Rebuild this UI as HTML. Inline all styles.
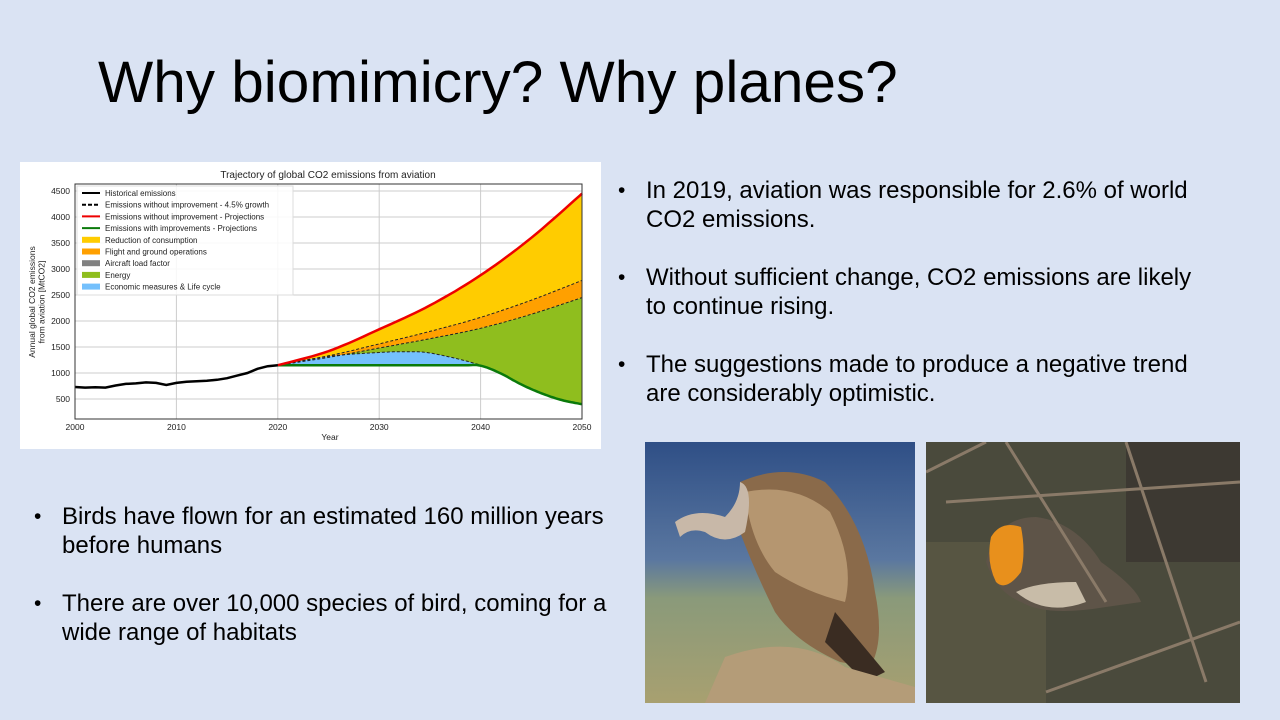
<!DOCTYPE html>
<html><head><meta charset="utf-8">
<style>
body{margin:0;width:1280px;height:720px;background:#dae3f3;position:relative;overflow:hidden;font-family:"Liberation Sans",sans-serif;color:#000}
.t{position:absolute;left:98px;top:49px;font-size:58.5px;white-space:nowrap}
.b{position:absolute;font-size:24px;line-height:29px}
.b li{list-style:none;position:relative;margin-bottom:29px}
.b li:before{content:"•";position:absolute;left:-28px;font-size:21px}
.ph{position:absolute;overflow:hidden}
</style></head><body>
<div class="t">Why biomimicry? Why planes?</div>
<div class="b" style="left:646px;top:176px;width:556px">
<ul style="margin:0;padding:0">
<li>In 2019, aviation was responsible for 2.6% of world CO2 emissions.</li>
<li>Without sufficient change, CO2 emissions are likely to continue rising.</li>
<li>The suggestions made to produce a negative trend are considerably optimistic.</li>
</ul></div>
<div class="b" style="left:62px;top:502px;width:556px">
<ul style="margin:0;padding:0">
<li>Birds have flown for an estimated 160 million years before humans</li>
<li>There are over 10,000 species of bird, coming for a wide range of habitats</li>
</ul></div>

<svg class="ph" style="left:645px;top:442px" width="270" height="261">
<defs><linearGradient id="vs" x1="0" y1="0" x2="0" y2="1"><stop offset="0" stop-color="#2f4f86"/><stop offset="0.45" stop-color="#5a77a0"/><stop offset="0.6" stop-color="#8a9a7a"/><stop offset="1" stop-color="#a8a070"/></linearGradient></defs>
<rect width="270" height="261" fill="url(#vs)"/>
<path d="M95 40 Q140 20 180 40 Q220 80 230 150 Q240 200 225 225 L195 220 Q150 200 130 170 Q110 130 95 90Z" fill="#8a6a4a"/>
<path d="M100 50 Q150 40 185 70 Q210 120 200 160 Q160 150 130 130 Q105 100 100 50Z" fill="#b59670"/>
<path d="M30 80 Q50 65 80 75 Q95 60 95 40 Q110 45 100 90 Q80 105 60 90 Q45 85 35 95Z" fill="#c8b8a8"/>
<path d="M190 170 L240 230 L220 240 L180 200Z" fill="#3a2c22"/>
<path d="M60 261 L80 215 Q150 190 200 225 L270 245 L270 261Z" fill="#b49c78"/>
</svg>
<svg class="ph" style="left:926px;top:442px" width="314" height="261">
<rect width="314" height="261" fill="#4a4a3c"/>
<rect x="0" y="100" width="120" height="161" fill="#5c5a44" opacity="0.7"/>
<rect x="200" y="0" width="114" height="120" fill="#3a3530" opacity="0.8"/>
<path d="M60 120 Q70 75 110 75 Q150 80 175 120 Q210 145 215 160 L180 165 Q120 175 95 160 Q70 150 60 120Z" fill="#5e5448"/>
<path d="M65 95 Q75 78 95 85 Q100 110 95 130 Q80 150 70 140 Q60 120 65 95Z" fill="#e8901c"/>
<path d="M90 150 Q120 175 160 160 L150 140 Q110 140 90 150Z" fill="#c8bca8"/>
<path d="M0 30 L60 0 M80 0 L180 160 M120 250 L314 180 M20 60 L314 40 M200 0 L280 240" stroke="#8a7a68" stroke-width="3" fill="none"/>
</svg>

<svg style="position:absolute;left:20px;top:162px" width="581" height="287" id="chart"></svg>
<script>
const histYears=[2000,2001,2002,2003,2004,2005,2006,2007,2008,2009,2010,2011,2012,2013,2014,2015,2016,2017,2018,2019,2020];
const histVals=[730,720,725,720,760,790,800,820,810,770,810,830,840,850,870,900,950,1000,1080,1130,1150];
const projYears=[2020,2025,2030,2035,2040,2045,2050];
const redVals=[1150,1420,1840,2300,2880,3600,4450];
const upperDashVals=[1150,1330,1560,1800,2070,2400,2780];
const lowerDashVals=[1150,1300,1480,1660,1860,2130,2450];
const blueYears=[2020,2025,2030,2033,2035,2038,2040];
const blueVals=[1150,1320,1395,1410,1385,1260,1150];
const greenYears=[2020,2030,2038,2040,2042,2044,2046,2048,2050];
const greenVals=[1150,1150,1150,1140,990,780,610,480,400];
const xTicks=[2000,2010,2020,2030,2040,2050];
const yTicks=[500,1000,1500,2000,2500,3000,3500,4000,4500];
const legendItems=[["line","#000","Historical emissions"],["dash","#000","Emissions without improvement - 4.5% growth"],["line","#e00","Emissions without improvement - Projections"],["line","#0a7a0a","Emissions with improvements - Projections"],["patch","#ffcc00","Reduction of consumption"],["patch","#ffa000","Flight and ground operations"],["patch","#808080","Aircraft load factor"],["patch","#8fbe1e","Energy"],["patch","#74c0fc","Economic measures & Life cycle"]];

const svg=document.getElementById('chart');const NS='http://www.w3.org/2000/svg';
const L=55,R=562,T=22,B=257;
const xs=y=>L+(y-2000)/50*(R-L);
const ys=v=>237-(v-500)*0.052;
function mk(t,a,p){const e=document.createElementNS(NS,t);for(const k in a)e.setAttribute(k,a[k]);(p||svg).appendChild(e);return e;}
function interp(xa,va){const pts=[];for(let i=0;i<xa.length-1;i++){const p0=i>0?[xa[i-1],va[i-1]]:[xa[i],va[i]],p1=[xa[i],va[i]],p2=[xa[i+1],va[i+1]],p3=i+2<xa.length?[xa[i+2],va[i+2]]:p2;for(let s=0;s<10;s++){const t=s/10,t2=t*t,t3=t2*t;const f=(a,b,c,d)=>0.5*(2*b+(-a+c)*t+(2*a-5*b+4*c-d)*t2+(-a+3*b-3*c+d)*t3);pts.push([xs(f(p0[0],p1[0],p2[0],p3[0])),ys(f(p0[1],p1[1],p2[1],p3[1]))]);}}pts.push([xs(xa[xa.length-1]),ys(va[va.length-1])]);return pts;}
const P=a=>a.map(p=>p[0].toFixed(1)+','+p[1].toFixed(1)).join(' ');
mk('rect',{x:0,y:0,width:581,height:287,fill:'#fff'});
let e=mk('text',{x:308,y:16,'font-size':10,'text-anchor':'middle',fill:'#222'});e.textContent='Trajectory of global CO2 emissions from aviation';

xTicks.forEach(v=>{mk('line',{x1:xs(v),x2:xs(v),y1:T,y2:B,stroke:'#ccc'});const t=mk('text',{x:xs(v),y:B+11,'font-size':8.5,'text-anchor':'middle',fill:'#222'});t.textContent=v;});
yTicks.forEach(v=>{mk('line',{x1:L,x2:R,y1:ys(v),y2:ys(v),stroke:'#ccc'});const t=mk('text',{x:L-5,y:ys(v)+3,'font-size':8.5,'text-anchor':'end',fill:'#222'});t.textContent=v;});
const red=interp(projYears,redVals),up=interp(projYears,upperDashVals),lo=interp(projYears,lowerDashVals),bl=interp(blueYears,blueVals),gr=interp(greenYears,greenVals);
function band(a,b,c,n){const p=mk('polygon',{points:P(a.concat(b.slice().reverse())),fill:c});}
band(red,up,'#ffcc00','area-reduction-consumption');
band(up,lo,'#ffa000','area-flight-ground-ops');
band(lo,gr,'#8fbe1e','area-energy');
band(bl,gr.filter(p=>p[0]<=xs(2040)+0.1),'#74c0fc','area-economic-measures');
function line(pts,c,w,d,n){const l=mk('polyline',{points:P(pts),fill:'none',stroke:c,'stroke-width':w});if(d)l.setAttribute('stroke-dasharray',d);}
line(up,'#222',1,'3,2','dash-upper');line(lo,'#222',1,'3,2','dash-lower');line(bl,'#222',1,'3,2','dash-economic');
line(gr,'#0a7a0a',2.5,null,'line-with-improvements');
line(red,'#e00',2.5,null,'line-without-improvement');
line(histYears.map((y,i)=>[xs(y),ys(histVals[i])]),'#000',2.5,null,'line-historical');
mk('rect',{x:L,y:T,width:R-L,height:B-T,fill:'none',stroke:'#333','stroke-width':1});
e=mk('text',{x:310,y:278,'font-size':8.5,'text-anchor':'middle',fill:'#222'});e.textContent='Year';

e=mk('text',{'font-size':8.5,'text-anchor':'middle',fill:'#222',transform:'translate(15,140) rotate(-90)'});
e.innerHTML='<tspan x="0" dy="0">Annual global CO2 emissions</tspan><tspan x="0" dy="9.5">from aviation [MtCO2]</tspan>';

const lg=mk('g',{});
mk('rect',{x:57,y:24,width:216,height:109,fill:'#fff',stroke:'#ddd','fill-opacity':0.85},lg);
legendItems.forEach((it,i)=>{const y=31+i*11.7;
if(it[0]==='patch')mk('rect',{x:62,y:y-3,width:18,height:6,fill:it[1]},lg);
else mk('line',{x1:62,x2:80,y1:y,y2:y,stroke:it[1],'stroke-width':2,'stroke-dasharray':it[0]==='dash'?'4,2':'none'},lg);
const t=mk('text',{x:85,y:y+3,'font-size':8,fill:'#222'},lg);t.textContent=it[2];
});
</script>
</body></html>
